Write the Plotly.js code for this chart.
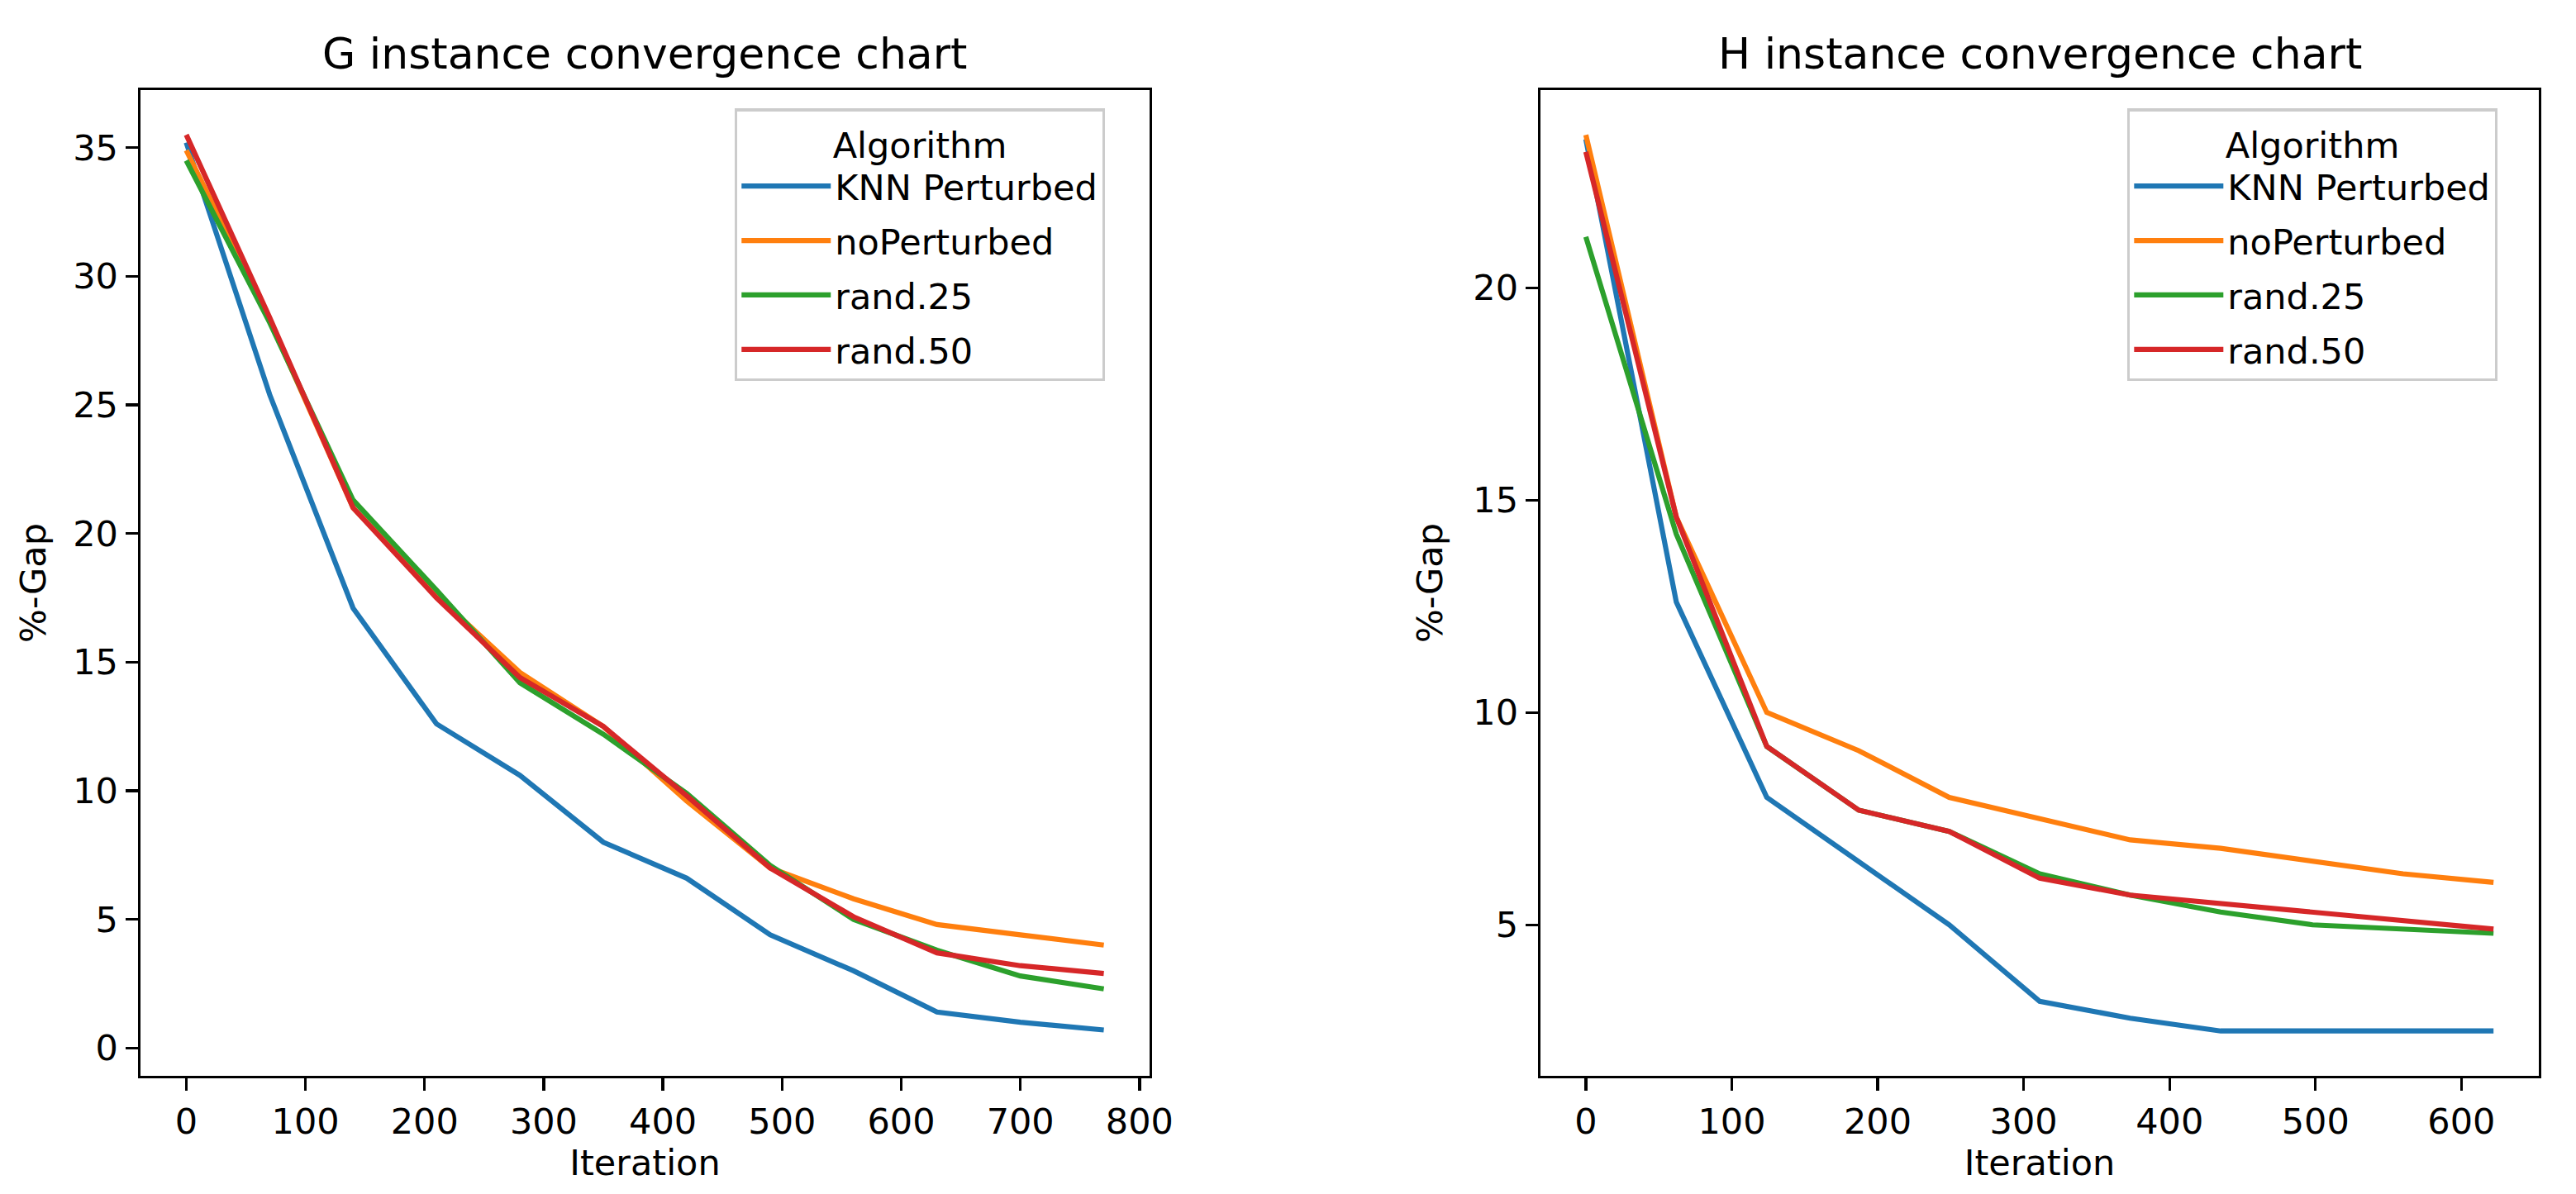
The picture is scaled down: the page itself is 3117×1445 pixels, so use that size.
<!DOCTYPE html>
<html>
<head>
<meta charset="utf-8">
<script src="https://cdn.plot.ly/plotly-3.0.1.min.js"></script>
<style>
  body { margin: 0; background: #ffffff; }
  #chart { width: 3117px; height: 1445px; }
</style>
</head>
<body>
<div id="chart"></div>
<script>
var seriesNames = ['KNN Perturbed', 'noPerturbed', 'rand.25', 'rand.50'];
var colours = ['#1f77b4', '#ff7f0e', '#2ca02c', '#d62728'];

// G instance
var gIter = [0, 70, 140, 210, 280, 350, 420, 490, 560, 630, 700, 770];
var gKnn = [35.2, 25.4, 17.1, 12.6, 10.6, 8.0, 6.6, 4.4, 3.0, 1.4, 1.0, 0.7];
var gNoPert = [34.9, 28.3, 21.0, 17.6, 14.6, 12.5, 9.6, 7.0, 5.8, 4.8, 4.4, 4.0];
var gRand25 = [34.5, 28.2, 21.3, 17.8, 14.2, 12.2, 9.9, 7.1, 5.0, 3.8, 2.8, 2.3];
var gRand50 = [35.5, 28.4, 21.0, 17.5, 14.4, 12.5, 9.8, 7.0, 5.1, 3.7, 3.2, 2.9];

// H instance
var hIter = [0, 62, 124, 187, 249, 311, 373, 435, 498, 560, 622];
var hKnn = [23.5, 12.6, 8.0, 6.5, 5.0, 3.2, 2.8, 2.5, 2.5, 2.5, 2.5];
var hNoPert = [23.6, 14.6, 10.0, 9.1, 8.0, 7.5, 7.0, 6.8, 6.5, 6.2, 6.0];
var hRand25 = [21.2, 14.2, 9.2, 7.7, 7.2, 6.2, 5.7, 5.3, 5.0, 4.9, 4.8];
var hRand50 = [23.2, 14.6, 9.2, 7.7, 7.2, 6.1, 5.7, 5.5, 5.3, 5.1, 4.9];

var font = 'DejaVu Sans, Arial, sans-serif';

function makeTraces(x, series, xa, ya, legendId) {
  var traces = [];
  for (var i = 0; i < series.length; i++) {
    traces.push({
      x: x,
      y: series[i],
      name: seriesNames[i],
      type: 'scatter',
      mode: 'lines',
      line: { color: colours[i], width: 6.2 },
      xaxis: xa,
      yaxis: ya,
      legend: legendId,
      legendgroup: legendId + '_' + i   // own group so tracegroupgap spaces the rows
    });
  }
  return traces;
}

var data = makeTraces(gIter, [gKnn, gNoPert, gRand25, gRand50], 'x', 'y', 'legend')
  .concat(makeTraces(hIter, [hKnn, hNoPert, hRand25, hRand50], 'x2', 'y2', 'legend2'));

function axis(domain, range, dtick, anchor, title, standoff) {
  return {
    domain: domain,
    range: range,
    dtick: dtick,
    tick0: 0,
    anchor: anchor,
    showgrid: false,
    zeroline: false,
    showline: true,
    mirror: true,
    linecolor: '#000000',
    linewidth: 3.3,
    ticks: 'outside',
    ticklen: 15,
    tickwidth: 3.3,
    tickcolor: '#000000',
    tickfont: { family: font, size: 43, color: '#000000' },
    title: { text: title, font: { family: font, size: 43, color: '#000000' }, standoff: standoff }
  };
}

function legendBox(x) {
  return {
    x: x,
    y: 0.909,
    xanchor: 'left',
    yanchor: 'top',
    bgcolor: 'rgba(255,255,255,0.8)',
    bordercolor: '#cccccc',
    borderwidth: 3.3,
    font: { family: font, size: 43, color: '#000000' },
    title: { text: 'Algorithm', side: 'top center', font: { family: font, size: 43, color: '#000000' } },
    itemwidth: 108,
    tracegroupgap: 7
  };
}

var yDomain = [0.099, 0.9246];

var layout = {
  width: 3117,
  height: 1445,
  margin: { l: 0, r: 0, t: 0, b: 0 },
  paper_bgcolor: '#ffffff',
  plot_bgcolor: '#ffffff',
  font: { family: font, color: '#000000' },
  xaxis: axis([0.0545, 0.4463], [-38.5, 808.5], 100, 'y', 'Iteration', 6),
  yaxis: axis(yDomain, [-1.08, 37.24], 5, 'x', '%-Gap', 20),
  xaxis2: axis([0.598, 0.9856], [-31.1, 653.1], 100, 'y2', 'Iteration', 6),
  yaxis2: axis(yDomain, [1.445, 24.655], 5, 'x2', '%-Gap', 24),
  legend: legendBox(0.2852),
  legend2: legendBox(0.8258),
  annotations: [
    {
      text: 'G instance convergence chart',
      xref: 'paper', yref: 'paper',
      x: (0.0545 + 0.4463) / 2, y: 0.955,
      xanchor: 'center', yanchor: 'middle',
      showarrow: false,
      font: { family: font, size: 52, color: '#000000' }
    },
    {
      text: 'H instance convergence chart',
      xref: 'paper', yref: 'paper',
      x: (0.598 + 0.9856) / 2, y: 0.955,
      xanchor: 'center', yanchor: 'middle',
      showarrow: false,
      font: { family: font, size: 52, color: '#000000' }
    }
  ]
};

Plotly.newPlot('chart', data, layout, { displayModeBar: false, staticPlot: true });
</script>
</body>
</html>
